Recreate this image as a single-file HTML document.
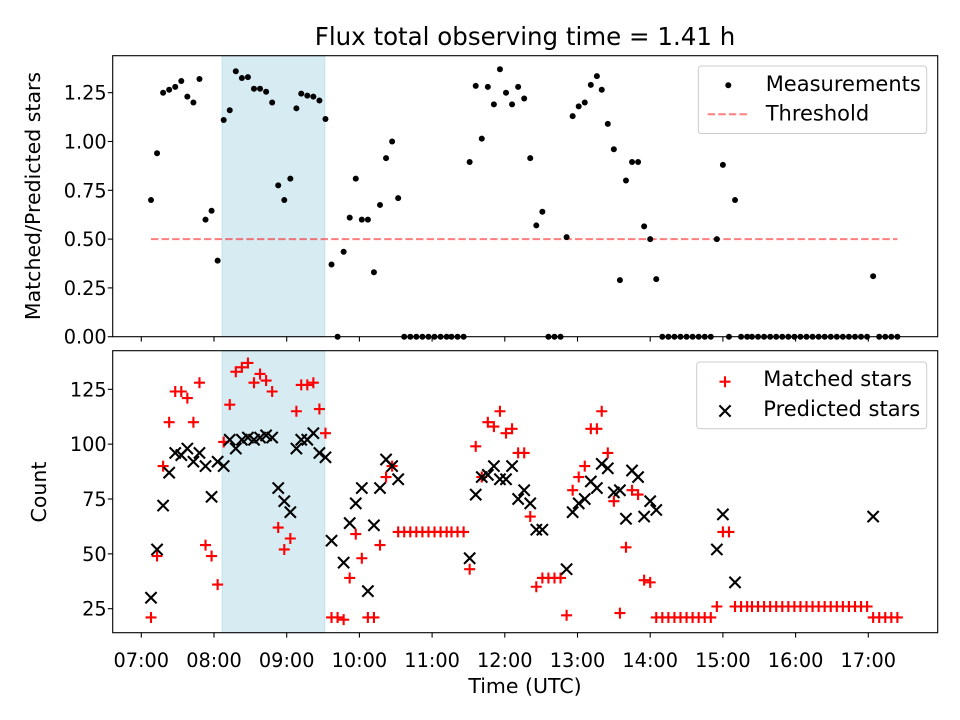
<!DOCTYPE html>
<html><head><meta charset="utf-8"><style>
html,body{margin:0;padding:0;background:#fff}
svg{display:block;font-family:"DejaVu Sans","Liberation Sans",sans-serif}
</style></head><body>
<svg id="chart" width="960" height="720" viewBox="0 0 960 720" xmlns="http://www.w3.org/2000/svg">
<rect width="960" height="720" fill="#fff"/>
<text x="525" y="45" text-anchor="middle" font-size="24.5" fill="#000">Flux total observing time = 1.41 h</text>
<g id="topPanel"></g>
<g id="botPanel"></g>
<text transform="translate(40,196) rotate(-90)" text-anchor="middle" font-size="20.5">Matched/Predicted stars</text>
<text transform="translate(46,492) rotate(-90)" text-anchor="middle" font-size="20.5">Count</text>
<text x="525" y="693" text-anchor="middle" font-size="20.5">Time (UTC)</text>
</svg>
<script>
const timesMin = [428,433,438,443,448,453,458,463,468,473,478,483,488,493,498,503,508,513,518,523,528,533,538,543,548,
552,557,562,567,572,577,582,587,592,597,602,607,612,617,622,627,632,637,642,647,652,657,662,667,672,
676,681,686,691,696,701,706,711,716,721,726,731,736,741,746,751,756,761,766,771,776,781,786,791,796,
800,805,810,815,820,825,830,835,840,845,850,855,860,865,870,875,880,885,890,895,900,905,910,915,920,
924,929,934,939,944,949,954,959,964,969,974,979,984,989,994,999,1004,1009,1014,1019,1024,1029,1034,1039,1044];
const ratio = [0.70,0.94,1.25,1.265,1.28,1.31,1.23,1.20,1.32,0.60,
0.645,0.39,1.11,1.16,1.36,1.325,1.33,1.27,1.27,1.255,
1.20,0.775,0.70,0.81,1.17,1.245,1.235,1.23,1.21,1.115,
0.37,0,0.435,0.61,0.81,0.60,0.60,0.33,0.675,0.915,
1.00,0.71,0,0,0,0,0,0,0,0,0,0,0,
0.895,1.285,1.015,1.28,1.19,1.37,1.25,1.19,1.28,1.22,
0.915,0.57,0.64,0,0,0,0.51,1.13,1.18,1.20,1.29,1.335,
1.265,1.09,0.96,0.29,0.80,0.895,0.895,0.565,0.50,0.295,
0,0,0,0,0,0,0,0,0,0.50,0.88,0,0.70,
0,0,0,0,0,0,0,0,0,0,0,0,0,0,0,0,0,0,0,0,0,0,
0.31,0,0,0,0];
const matched = [21,49,90,110,124,124,121,110,128,54,
49,36,101,118,133,135,137,128,132,129,
124,62,52,57,115,127,127,128,116,105,
21,21,20,39,59,48,21,21,54,85,
90,60,60,60,60,60,60,60,60,60,60,60,60,
43,99,85,110,108,115,105,107,96,96,
67,35,39,39,39,39,22,79,85,90,107,107,
115,96,74,23,53,79,77,38,37,21,
21,21,21,21,21,21,21,21,21,26,60,60,26,
26,26,26,26,26,26,26,26,26,26,26,26,26,26,26,26,26,26,26,26,26,26,
21,21,21,21,21];
const predicted = [30,52,72,87,96,95,98,92,96,90,
76,92,90,102,98,102,103,102,103,104,
103,80,74,69,98,102,102,105,96,94,
56,null,46,64,73,80,33,63,80,93,
90,84,null,null,null,null,null,null,null,null,null,null,null,
48,77,85,86,90,84,84,90,75,79,
73,61,61,null,null,null,43,69,73,75,83,80,
91,89,78,79,66,88,85,67,74,70,
null,null,null,null,null,null,null,null,null,52,68,null,37,
null,null,null,null,null,null,null,null,null,null,null,null,null,null,null,null,null,null,null,null,null,null,
67,null,null,null,null];
const threshold = [0.5];
const thresholdSpan = [428, 1044];
const obsSpan = [486.6, 571.5];
const xTickLabels = ["07:00","08:00","09:00","10:00","11:00","12:00","13:00","14:00","15:00","16:00","17:00"];
const xTickMin = [420,480,540,600,660,720,780,840,900,960,1020];
const topTicks = [0,0.25,0.5,0.75,1.0,1.25];
const botTicks = [25,50,75,100,125];

const NS="http://www.w3.org/2000/svg";
const L=112.7,R=937.7;
const TT=55.7,TB=336.7,BT=350.7,BB=632.7;
const TICKFS=19.3, LEGFS=21;
const xs = m => 141.3 + (m-420)*72.7/60;
const yTop = v => 336.7 - v*195.2;
const yBot = c => 608.7 - (c-25)*2.194;
function mk(tag, attrs, parent){const e=document.createElementNS(NS,tag);for(const k in attrs)e.setAttribute(k,attrs[k]);parent.appendChild(e);return e;}
const gTop=document.getElementById('topPanel'), gBot=document.getElementById('botPanel');

function panel(g, y0, y1, ticks, yf, fmt, nm){
  const sp=mk('rect',{x:xs(obsSpan[0]),y:y0,width:xs(obsSpan[1])-xs(obsSpan[0]),height:y1-y0,fill:'#add8e6','fill-opacity':0.5,stroke:'#add8e6','stroke-opacity':0.6},g);
  
  
  ticks.forEach(t=>{
    const y=yf(t);
    const tl=mk('line',{x1:L-4.9,x2:L,y1:y,y2:y,stroke:'#000','stroke-width':1.1},g);
    
    
    const tx=mk('text',{x:L-6,y:y+7,'text-anchor':'end','font-size':TICKFS},g);
    
    
    tx.textContent=fmt(t);
  });
  xTickMin.forEach(m=>{
    const x=xs(m);
    const tl=mk('line',{x1:x,x2:x,y1:y1,y2:y1+4.9,stroke:'#000','stroke-width':1.1},g);
    
    
  });
}
panel(gTop,TT,TB,topTicks,yTop,v=>v.toFixed(2),'top');
panel(gBot,BT,BB,botTicks,yBot,v=>String(v),'bottom');

const th=mk('line',{x1:xs(thresholdSpan[0]),x2:xs(thresholdSpan[1]),y1:yTop(threshold[0]),y2:yTop(threshold[0]),stroke:'#ff0000','stroke-opacity':0.5,'stroke-width':2,'stroke-dasharray':'7.4,3.2'},gTop);



ratio.forEach((v,i)=>{
  const c=mk('circle',{cx:xs(timesMin[i]),cy:yTop(v),r:3,fill:'#000'},gTop);
  
  
});
function plus(x,y,g,s){
  return mk('path',{d:`M${x-s},${y}H${x+s}M${x},${y-s}V${y+s}`,stroke:'#ff0000','stroke-width':2.1,fill:'none'},g);
}
function cross(x,y,g,s){
  return mk('path',{d:`M${x-s},${y-s}L${x+s},${y+s}M${x-s},${y+s}L${x+s},${y-s}`,stroke:'#000','stroke-width':2.1,fill:'none'},g);
}
matched.forEach((v,i)=>{
  const p=plus(xs(timesMin[i]),yBot(v),gBot,5.5);
  
  
});
predicted.forEach((v,i)=>{
  if(v===null)return;
  const p=cross(xs(timesMin[i]),yBot(v),gBot,5.6);
  
  
});

[[gTop,TT,TB,'top'],[gBot,BT,BB,'bottom']].forEach(([g,a,b,nm])=>{
  const f=mk('rect',{x:L,y:a,width:R-L,height:b-a,fill:'none',stroke:'#000','stroke-width':1.1},g);
  
  
});
xTickLabels.forEach((lab,i)=>{
  const t=mk('text',{x:xs(xTickMin[i]),y:667,'text-anchor':'middle','font-size':TICKFS},gBot);
  
  
  t.textContent=lab;
});

const lg1=mk('g',{},gTop);


mk('rect',{x:698.3,y:66,width:228.4,height:67.5,rx:3,fill:'#fff','fill-opacity':0.8,stroke:'#cccccc'},lg1);
const lm=mk('circle',{cx:728.3,cy:85.3,r:3,fill:'#000'},lg1);


const lt1=mk('text',{x:765.7,y:91,'font-size':LEGFS},lg1);


lt1.textContent='Measurements';
const ll=mk('line',{x1:707.7,x2:748.3,y1:114.3,y2:114.3,stroke:'#ff0000','stroke-opacity':0.5,'stroke-width':2,'stroke-dasharray':'7.4,3.2'},lg1);


const lt2=mk('text',{x:765.7,y:120.5,'font-size':LEGFS},lg1);


lt2.textContent='Threshold';

const lg2=mk('g',{},gBot);


mk('rect',{x:696.7,y:362,width:230,height:66.7,rx:3,fill:'#fff','fill-opacity':0.8,stroke:'#cccccc'},lg2);
const pm=plus(725,381.7,lg2,5.5);


const lt3=mk('text',{x:763.3,y:386,'font-size':LEGFS},lg2);


lt3.textContent='Matched stars';
const cm=cross(725,411,lg2,5.6);


const lt4=mk('text',{x:763.3,y:416,'font-size':LEGFS},lg2);


lt4.textContent='Predicted stars';
</script>
</body></html>
